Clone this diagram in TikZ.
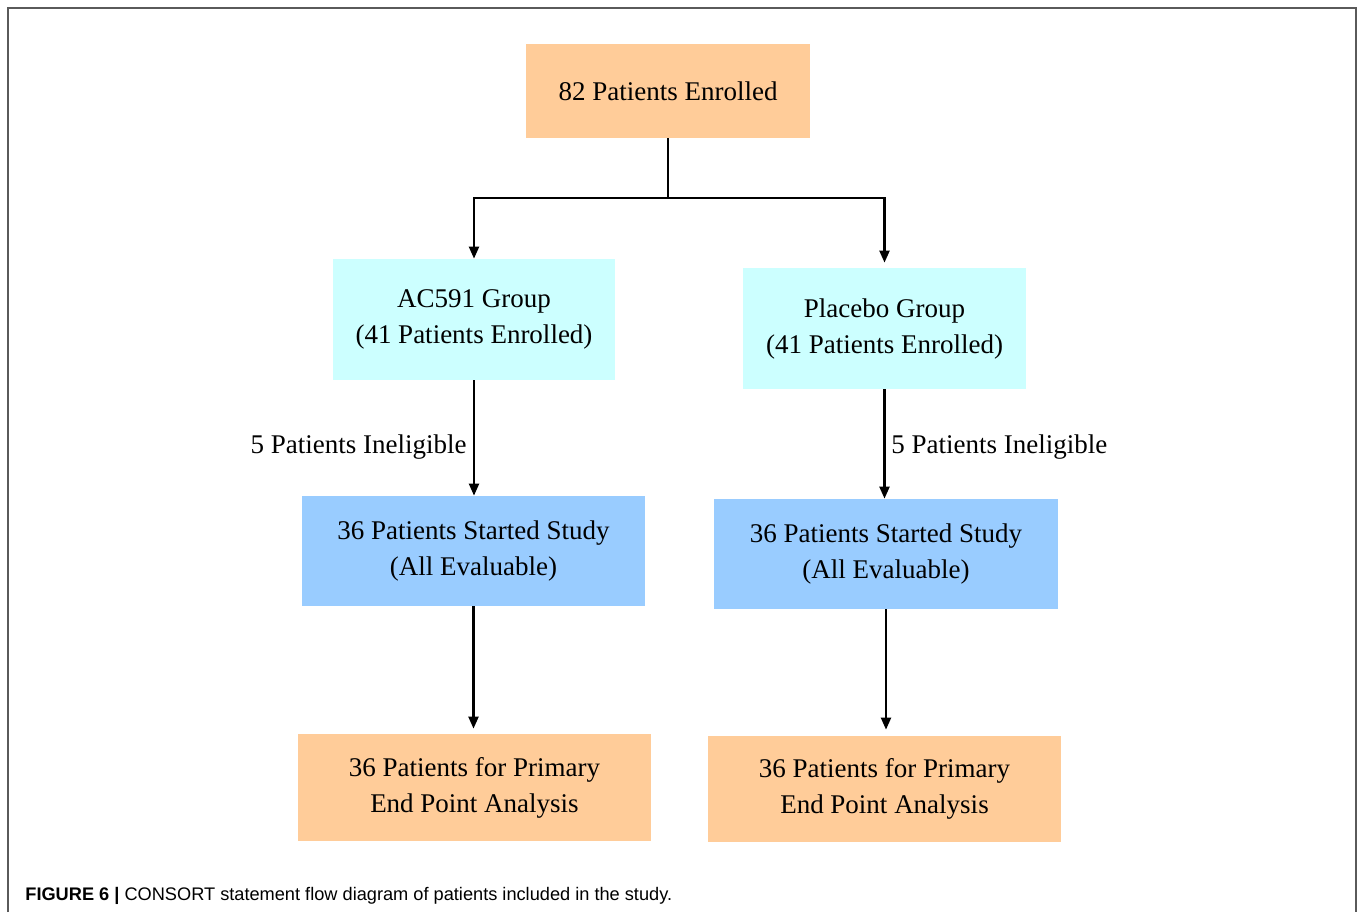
\documentclass[tikz,border=0pt]{standalone}
\usepackage{fontspec}
\setmainfont{Liberation Serif}
\setsansfont{Liberation Sans}
\usetikzlibrary{arrows.meta}
\definecolor{peach}{HTML}{FFCC99}
\definecolor{paleaqua}{HTML}{CCFFFF}
\definecolor{skyblue}{HTML}{99CCFF}
\definecolor{framegray}{HTML}{5A5A5A}
\begin{document}
\begin{tikzpicture}[x=0.5pt,y=-0.5pt,
		box/.style={inner sep=0pt,align=center,font=\fontsize{13.5pt}{18pt}\selectfont},
		arr/.style={line width=1.1pt,-{Triangle[width=5pt,length=6pt]}},
		lbl/.style={inner sep=0pt,font=\fontsize{13.5pt}{18pt}\selectfont}]
		\useasboundingbox (0,0) rectangle (1358,912);
		\draw [framegray,line width=0.8pt] (8,912) -- (8,8) -- (1356,8) -- (1356,912);
		% boxes
		\node [box,fill=peach,minimum width=142pt,minimum height=47pt] (enrol) at (668,91) {82 Patients Enrolled};
		\node [box,fill=paleaqua,minimum width=141pt,minimum height=60.5pt] (acg) at (474,319.5) {AC591 Group\\(41 Patients Enrolled)};
		\node [box,fill=paleaqua,minimum width=141.5pt,minimum height=60.5pt] (plg) at (884.5,328.5) {Placebo Group\\(41 Patients Enrolled)};
		\node [box,fill=skyblue,minimum width=171.5pt,minimum height=55pt] (acs) at (473.5,551) {36 Patients Started Study\\(All Evaluable)};
		\node [box,fill=skyblue,minimum width=172pt,minimum height=55pt] (pls) at (886,554) {36 Patients Started Study\\(All Evaluable)};
		\node [box,fill=peach,minimum width=176.5pt,minimum height=53.5pt] (aca) at (474.5,787.5) {36 Patients for Primary\\End Point Analysis};
		\node [box,fill=peach,minimum width=176.5pt,minimum height=53pt] (pla) at (884.5,789) {36 Patients for Primary\\End Point Analysis};
		% connectors
		\coordinate (split) at (668,198);
		\draw [arr] (enrol.south) -- (split) -| (acg.north);
		\draw [arr,shorten >=2.5pt] (split) -| (plg.north);
		\draw [arr] (acg.south) -- (acg.south |- acs.north);
		\draw [arr] (plg.south) -- (plg.south |- pls.north);
		\draw [arr,shorten >=2.5pt] (acs.south) -- (acs.south |- aca.north);
		\draw [arr,shorten >=3pt] (pls.south) -- (pls.south |- pla.north);
		\node [lbl,anchor=east] (acx) at (467,447) {5 Patients Ineligible};
		\node [lbl,anchor=west] (plx) at (891,447) {5 Patients Ineligible};
		% caption
		\node [anchor=base west,inner sep=0pt,font=\sffamily\fontsize{9.1pt}{11pt}\selectfont] (cap) at (25,900)
			{\textbf{FIGURE 6 |} CONSORT statement flow diagram of patients included in the study.};
	\end{tikzpicture}
\end{document}
